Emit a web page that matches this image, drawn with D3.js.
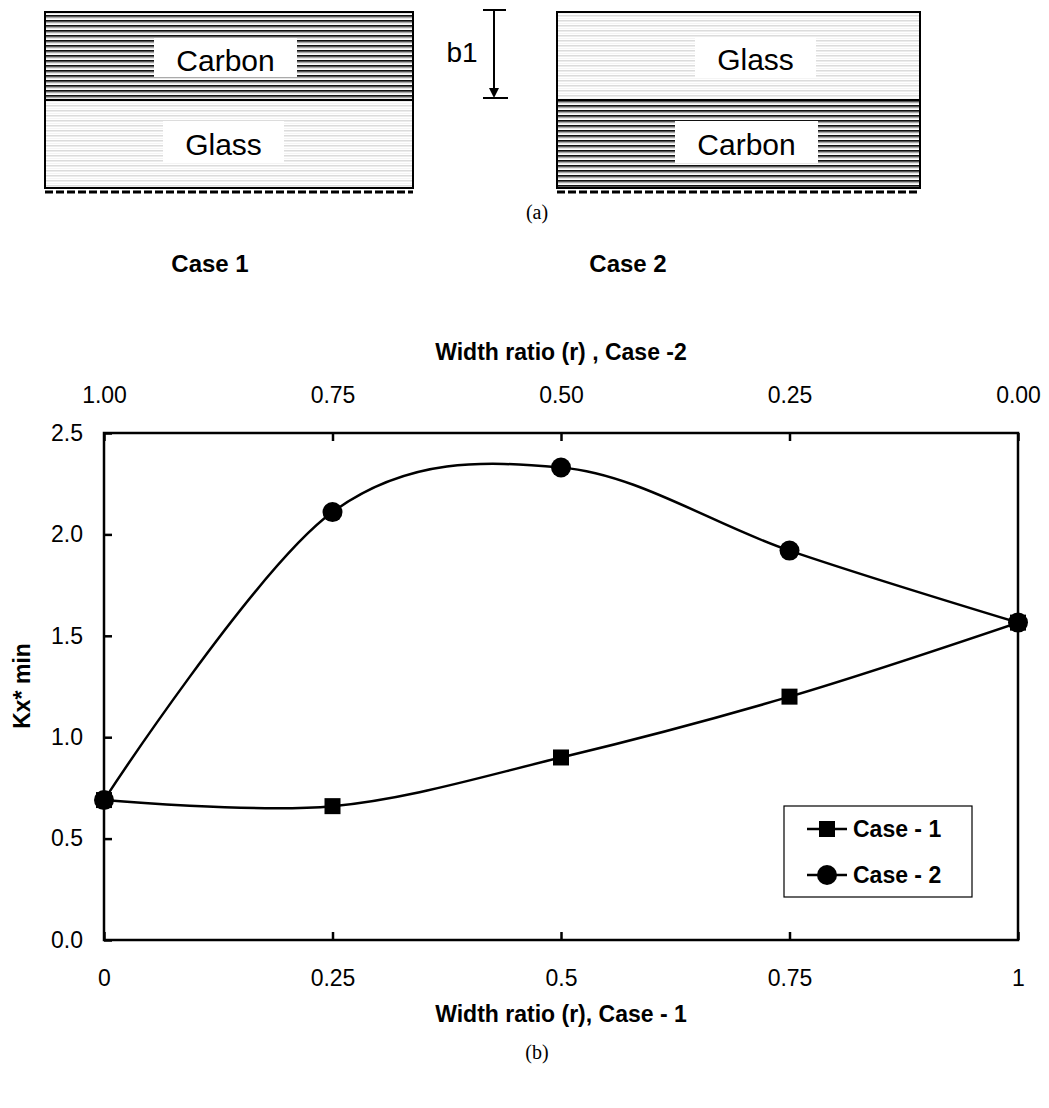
<!DOCTYPE html>
<html>
<head>
<meta charset="utf-8">
<script src="https://cdn.jsdelivr.net/npm/d3@7"></script>
<style>
  body { margin: 0; background: #fff; }
  text { font-family: "Liberation Sans", Arial, sans-serif; }
</style>
</head>
<body>
<div id="wrapper"></div>
<script>
// chart data
var ratio = [0, 0.25, 0.5, 0.75, 1];
var case1 = [0.69, 0.66, 0.90, 1.20, 1.565];
var case2 = [0.69, 2.11, 2.33, 1.92, 1.565];
var yTicks = [0, 0.5, 1.0, 1.5, 2.0, 2.5];
var topTicks = [1.00, 0.75, 0.50, 0.25, 0.00];
var seriesNames = ["Case - 1", "Case - 2"];

var svg = d3.select('#wrapper')
            .append('svg')
            .attr('width', 1049)
            .attr('height', 1108);

var defs = svg.append('defs');

// stripe patterns for the two layers
function stripes(id, colors) {
    var p = defs.append('pattern')
                .attr('id', id)
                .attr('patternUnits', 'userSpaceOnUse')
                .attr('width', 8)
                .attr('height', colors.length);
    colors.forEach(function(c, i) {
        p.append('rect').attr('x', 0).attr('y', i).attr('width', 8).attr('height', 1).attr('fill', c);
    });
}
stripes('carbon', ['#111', '#555', '#aaa', '#e6e6e6', '#fff']);
stripes('glass', ['#dcdcdc', '#ececec', '#fff', '#f4f4f4', '#fff']);

// ---- (a) layered sections ----
function section(x0, x1, topFill, topLabel, botFill, botLabel, topBox, botBox, base) {
    var g = svg.append('g');
    var yTop = 12, yMid = 100, yBot = 188;
    g.append('rect').attr('x', x0).attr('y', yTop).attr('width', x1 - x0).attr('height', yMid - yTop)
     .attr('fill', 'url(#' + topFill + ')');
    g.append('rect').attr('x', x0).attr('y', yMid).attr('width', x1 - x0).attr('height', yBot - yMid)
     .attr('fill', 'url(#' + botFill + ')');
    g.append('rect').attr('x', x0).attr('y', yTop).attr('width', x1 - x0).attr('height', yBot - yTop)
     .attr('fill', 'none').attr('stroke', '#000').attr('stroke-width', 2);
    g.append('line').attr('x1', x0).attr('x2', x1).attr('y1', yMid).attr('y2', yMid)
     .attr('stroke', '#000').attr('stroke-width', 2);
    g.append('line').attr('x1', x0).attr('x2', x1).attr('y1', yBot + 4).attr('y2', yBot + 4)
     .attr('stroke', '#000').attr('stroke-width', 3).attr('stroke-dasharray', '8,3');

    [[topLabel, topBox, 38, 77, base[0]], [botLabel, botBox, 121, 163, base[1]]].forEach(function(b) {
        g.append('rect').attr('x', b[1][0]).attr('y', b[2]).attr('width', b[1][1] - b[1][0]).attr('height', b[3] - b[2])
         .attr('fill', '#fff');
        g.append('text').attr('x', (b[1][0] + b[1][1]) / 2).attr('y', b[4])
         .attr('text-anchor', 'middle')
         .style('font-size', '30px').text(b[0]);
    });
}
section(45, 413, 'carbon', 'Carbon', 'glass', 'Glass', [154, 297], [163, 284], [71, 155]);
section(557, 920, 'glass', 'Glass', 'carbon', 'Carbon', [695, 816], [675, 818], [70, 155]);

// b1 dimension arrow
var arrow = svg.append('g').attr('stroke', '#000').attr('stroke-width', 2);
arrow.append('line').attr('x1', 483).attr('x2', 506).attr('y1', 10).attr('y2', 10);
arrow.append('line').attr('x1', 483).attr('x2', 508).attr('y1', 98).attr('y2', 98);
arrow.append('line').attr('x1', 494).attr('x2', 494).attr('y1', 10).attr('y2', 90);
svg.append('path').attr('d', 'M489,88 L499,88 L494,98 Z').attr('fill', '#000');
svg.append('text').attr('x', 462).attr('y', 62).attr('text-anchor', 'middle')
   .style('font-size', '28px').text('b1');

svg.append('text').attr('x', 537).attr('y', 212).attr('dy', '0.36em').attr('text-anchor', 'middle')
   .style('font-family', '"Liberation Serif", serif').style('font-size', '20px').text('(a)');
svg.append('text').attr('x', 210).attr('y', 263).attr('dy', '0.36em').attr('text-anchor', 'middle')
   .style('font-size', '24px').style('font-weight', 'bold').text('Case 1');
svg.append('text').attr('x', 628).attr('y', 263).attr('dy', '0.36em').attr('text-anchor', 'middle')
   .style('font-size', '24px').style('font-weight', 'bold').text('Case 2');

// ---- (b) chart ----
var x = d3.scaleLinear().domain([0, 1]).range([104, 1018]);
var xTop = d3.scaleLinear().domain([1, 0]).range([104, 1018]);
var y = d3.scaleLinear().domain([0, 2.5]).range([940, 433]);

var fontSize = '23px';

var gx = svg.append('g').attr('transform', 'translate(0,940)')
            .call(d3.axisBottom(x).tickValues(ratio).tickFormat(d3.format('')).tickSizeInner(-8).tickSizeOuter(0).tickPadding(30));
var gt = svg.append('g').attr('transform', 'translate(0,433)')
            .call(d3.axisTop(xTop).tickValues(topTicks).tickFormat(d3.format('.2f')).tickSizeInner(-8).tickSizeOuter(0).tickPadding(30));
var gy = svg.append('g').attr('transform', 'translate(104,0)')
            .call(d3.axisLeft(y).tickValues(yTicks).tickFormat(d3.format('.1f')).tickSizeInner(-8).tickSizeOuter(0).tickPadding(21));

[gx, gt, gy].forEach(function(g) {
    g.select('.domain').remove();
    g.selectAll('.tick line').attr('stroke', '#000').attr('stroke-width', 2.5);
    g.selectAll('.tick text').attr('fill', '#000')
     .style('font-family', '"Liberation Sans", Arial, sans-serif').style('font-size', fontSize);
});

svg.append('rect').attr('x', x(0)).attr('y', y(2.5))
   .attr('width', x(1) - x(0)).attr('height', y(0) - y(2.5))
   .attr('fill', 'none').attr('stroke', '#000').attr('stroke-width', 2.5);

svg.append('text').attr('x', 561).attr('y', 352).attr('dy', '0.36em').attr('text-anchor', 'middle')
   .style('font-size', fontSize).style('font-weight', 'bold').text('Width ratio (r) , Case -2');
svg.append('text').attr('x', 561).attr('y', 1014).attr('dy', '0.36em').attr('text-anchor', 'middle')
   .style('font-size', fontSize).style('font-weight', 'bold').text('Width ratio (r), Case - 1');
svg.append('text').attr('transform', 'translate(22,686) rotate(-90)').attr('dy', '0.36em').attr('text-anchor', 'middle')
   .style('font-size', fontSize).style('font-weight', 'bold').text('Kx* min');
svg.append('text').attr('x', 537).attr('y', 1052).attr('dy', '0.36em').attr('text-anchor', 'middle')
   .style('font-family', '"Liberation Serif", serif').style('font-size', '20px').text('(b)');

var line = d3.line()
             .x(function(d) { return x(d[0]); })
             .y(function(d) { return y(d[1]); })
             .curve(d3.curveCatmullRom.alpha(0));

var series = [case1, case2].map(function(vals) {
    return vals.map(function(v, i) { return [ratio[i], v]; });
});

svg.selectAll('.series')
   .data(series)
   .enter()
   .append('path')
   .attr('class', 'series')
   .attr('d', line)
   .attr('fill', 'none')
   .attr('stroke', '#000')
   .attr('stroke-width', 2.5);

svg.selectAll('.sq')
   .data(series[0])
   .enter()
   .append('rect')
   .attr('class', 'sq')
   .attr('x', function(d) { return x(d[0]) - 8; })
   .attr('y', function(d) { return y(d[1]) - 8; })
   .attr('width', 16)
   .attr('height', 16)
   .attr('fill', '#000');

svg.selectAll('.dot')
   .data(series[1])
   .enter()
   .append('circle')
   .attr('class', 'dot')
   .attr('cx', function(d) { return x(d[0]); })
   .attr('cy', function(d) { return y(d[1]); })
   .attr('r', 10)
   .attr('fill', '#000');

// legend
var legend = svg.append('g');
legend.append('rect').attr('x', 784).attr('y', 806).attr('width', 188).attr('height', 91)
      .attr('fill', '#fff').attr('stroke', '#000').attr('stroke-width', 1.2);
seriesNames.forEach(function(name, i) {
    var ly = 829 + i * 46;
    legend.append('line').attr('x1', 807).attr('x2', 847).attr('y1', ly).attr('y2', ly)
          .attr('stroke', '#000').attr('stroke-width', 2.5);
    if (i === 0) {
        legend.append('rect').attr('x', 819).attr('y', ly - 8).attr('width', 16).attr('height', 16).attr('fill', '#000');
    } else {
        legend.append('circle').attr('cx', 827).attr('cy', ly).attr('r', 10).attr('fill', '#000');
    }
    legend.append('text').attr('x', 853).attr('y', ly).attr('dy', '0.36em')
          .style('font-size', fontSize).style('font-weight', 'bold').text(name);
});
</script>
</body>
</html>
